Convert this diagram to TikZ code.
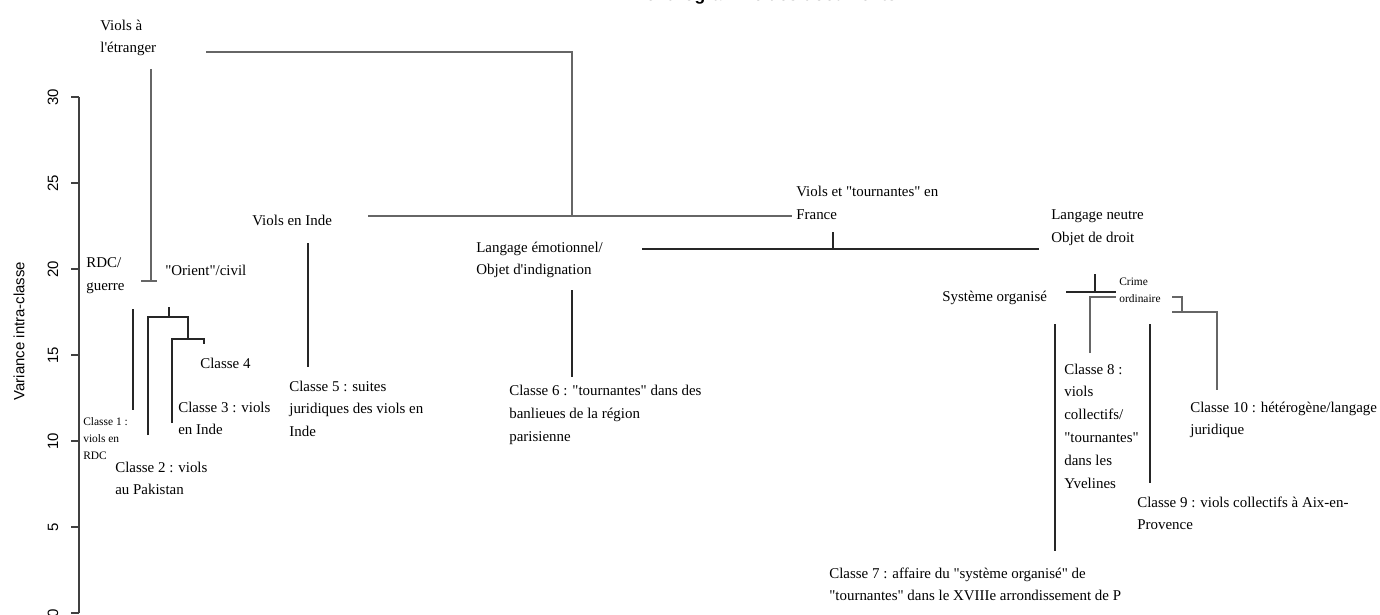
\documentclass[tikz,border=0pt]{standalone}
\usepackage{fontspec}
\setmainfont{Liberation Serif}[Ligatures=TeXOff]
\setsansfont{Liberation Sans}
\usetikzlibrary{positioning}

\begin{document}
\begin{tikzpicture}[
        x=0.02cm, y=-0.02cm,
        leaf/.style={anchor=north west, inner sep=0pt, yshift=-1.3pt, align=left, font=\fontsize{8.5}{13}\selectfont},
        smallleaf/.style={leaf, font=\fontsize{6.5}{9.8}\selectfont},
        link/.style={draw=black!60, line width=0.7pt},
        darklink/.style={draw=black!85, line width=0.6pt},
        ticklab/.style={font=\sffamily\fontsize{8.5}{10}\selectfont, rotate=90, inner sep=0pt}
    ]
        \useasboundingbox (0,0) rectangle (1380,615);
        \node[font=\sffamily\bfseries\fontsize{10}{12}\selectfont, anchor=base] (title) at (765,1) {Dendrogramme des documents};

        % axe des variances
        \draw[black!75, line width=0.6pt] (79,97) -- (79,613);
        \foreach \v in {0,5,...,30} {
            \draw[black!75, line width=0.6pt] (79,613-17.2*\v) -- (71,613-17.2*\v);
            \node[ticklab] (tick\v) at (53,613-17.2*\v) {\v};
        }
        \node[ticklab] (yaxis) at (19,331) {Variance intra-classe};

        % groupes
        \node[leaf] (etranger) at (100,17) {Viols à\\l'étranger};
        \node[leaf] (rdc) at (86,255) {RDC/\\guerre};
        \node[leaf] (orient) at (165,263) {"Orient"/civil};
        \node[leaf] (inde) at (252,213) {Viols en Inde};
        \node[leaf] (emo) at (476,239) {Langage émotionnel/\\Objet d'indignation};
        \node[leaf] (france) at (796,184) {Viols et "tournantes" en\\France};
        \node[leaf] (neutre) at (1051,207) {Langage neutre\\Objet de droit};
        \node[leaf] (systeme) at (942,288) {Système organisé};
        \node[smallleaf] (crime) at (1119,275) {Crime\\ordinaire};

        % classes
        \node[smallleaf] (cl1) at (83,415) {Classe 1 :\\viols en\\RDC};
        \node[leaf] (cl2) at (115,459) {Classe 2 : viols\\au Pakistan};
        \node[leaf] (cl3) at (178,399) {Classe 3 : viols\\en Inde};
        \node[leaf] (cl4) at (200,355) {Classe 4};
        \node[leaf] (cl5) at (289,378) {Classe 5 : suites\\juridiques des viols en\\Inde};
        \node[leaf] (cl6) at (509,383) {Classe 6 : "tournantes" dans des\\banlieues de la région\\parisienne};
        \node[leaf] (cl7) at (829,565) {Classe 7 : affaire du "système organisé" de\\"tournantes" dans le XVIIIe arrondissement de P};
        \node[leaf] (cl8) at (1064,361) {Classe 8 :\\viols\\collectifs/\\"tournantes"\\dans les\\Yvelines};
        \node[leaf] (cl9) at (1137,494) {Classe 9 : viols collectifs à Aix-en-\\Provence};
        \node[leaf] (cl10) at (1190,399) {Classe 10 : hétérogène/langage\\juridique};

        % points des branches
        \foreach \n/\x/\y in {topL/206/52, topB/572/216, indeR/368/216, franceL/792/216,
                etrT/151/69, etrB/151/281, etrBl/141/281, etrBr/157/281,
                indeT/308/243, indeB/308/367, emoR/642/249, neutreL/1039/249,
                franceT/833/232, franceB/833/249, emoT/572/290, emoB/572/377,
                c1T/133/309, c1B/133/410, c2B/148/435, c34T/188/317, c34B/188/339,
                orT/169/307, orB/169/317, c3B/172/423, c4T/204/339, c4B/204/344,
                sysL/1066/292, sysR/1116/292, crT/1095/274, crB/1095/292,
                c8B/1090/353, ordL/1116/297, ordR/1172/297, ordK/1182/312,
                c10L/1172/312, c10B/1217/390, c7T/1055/324, c7B/1055/551,
                c9T/1150/324, c9B/1150/483}
            \coordinate (\n) at (\x,\y);

        \draw[link] (topL) -| (topB);
        \draw[link] (indeR) -- (franceL);
        \draw[link] (etrT) -- (etrB);
        \draw[link] (etrBl) -- (etrBr);
        \draw[darklink] (indeT) -- (indeB);
        \draw[darklink] (emoR) -- (neutreL);
        \draw[darklink] (franceT) -- (franceB);
        \draw[darklink] (emoT) -- (emoB);
        \draw[darklink] (c1T) -- (c1B);
        \draw[darklink] (c2B) |- (c34T) -- (c34B);
        \draw[darklink] (orT) -- (orB);
        \draw[darklink] (c3B) |- (c4T) -- (c4B);
        \draw[darklink] (sysL) -- (sysR);
        \draw[darklink] (crT) -- (crB);
        \draw[link] (c8B) |- (ordL);
        \draw[link] (ordR) -| (ordK);
        \draw[link] (c10L) -| (c10B);
        \draw[darklink] (c7T) -- (c7B);
        \draw[darklink] (c9T) -- (c9B);
    \end{tikzpicture}
\end{document}
